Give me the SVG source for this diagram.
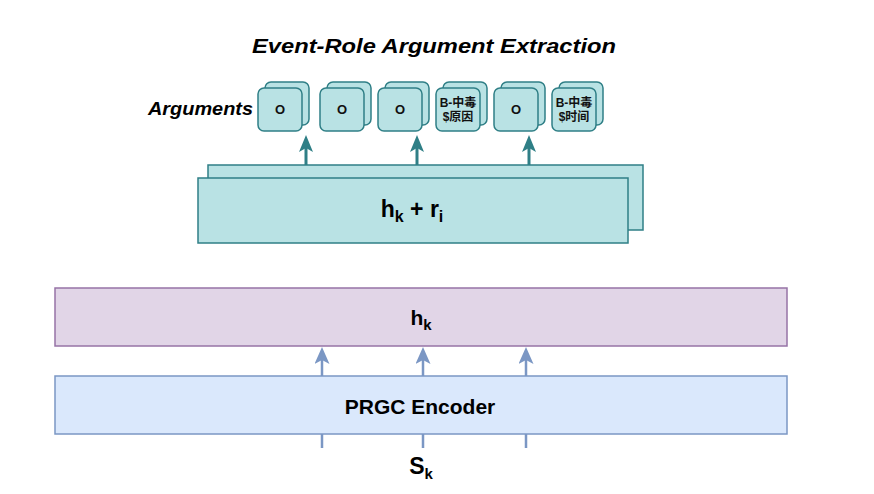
<svg xmlns="http://www.w3.org/2000/svg" width="874" height="494" viewBox="0 0 874 494">
<defs>
<style>
.title{font-family:"Liberation Sans",Arial,sans-serif;font-weight:bold;font-style:italic;font-size:21px;fill:#000}
.lbl{font-family:"Liberation Sans",Arial,sans-serif;font-weight:bold;font-style:italic;font-size:19px;fill:#000}
.teal{fill:#b9e2e4;stroke:#2f7f86;stroke-width:1.5}
.tok{font-family:"Liberation Sans","Noto Sans CJK SC",Arial,sans-serif;font-weight:bold;font-size:12px;fill:#111;text-anchor:middle}
.o{font-size:13px}
.big{font-family:"Liberation Sans",Arial,sans-serif;font-weight:bold;font-size:21px;fill:#000;text-anchor:middle}
.sub{font-size:15px}
.tline{stroke:#2f7f86;stroke-width:3;fill:none}
.bline{stroke:#7b97c4;stroke-width:2.5;fill:none}
</style>
<marker id="ahT" markerUnits="userSpaceOnUse" markerWidth="17" markerHeight="14" viewBox="0 0 17 14" refX="5" refY="7" orient="auto">
<path d="M0,0 L17,7 L0,14 L4,7 Z" fill="#2f7f86"/>
</marker>
<marker id="ahB" markerUnits="userSpaceOnUse" markerWidth="17" markerHeight="15" viewBox="0 0 17 15" refX="5" refY="7.5" orient="auto">
<path d="M0,0 L17,7.5 L0,15 L4,7.5 Z" fill="#7b97c4"/>
</marker>
</defs>
<rect width="874" height="494" fill="#fff"/>

<text class="title" x="434" y="53" text-anchor="middle" textLength="364" lengthAdjust="spacingAndGlyphs">Event-Role Argument Extraction</text>
<text class="lbl" x="148" y="115" textLength="105" lengthAdjust="spacingAndGlyphs">Arguments</text>

<g id="arg1">
<rect class="teal" x="265" y="82" width="44" height="43" rx="6"/>
<rect class="teal" x="258" y="88" width="44" height="43" rx="6"/>
<text class="tok o" x="280" y="114">O</text>
</g>
<g id="arg2">
<rect class="teal" x="327" y="82" width="44" height="43" rx="6"/>
<rect class="teal" x="320" y="88" width="44" height="43" rx="6"/>
<text class="tok o" x="342" y="114">O</text>
</g>
<g id="arg3">
<rect class="teal" x="385" y="82" width="44" height="43" rx="6"/>
<rect class="teal" x="378" y="88" width="44" height="43" rx="6"/>
<text class="tok o" x="400" y="114">O</text>
</g>
<g id="arg4">
<rect class="teal" x="443" y="82" width="44" height="43" rx="6"/>
<rect class="teal" x="436" y="88" width="44" height="43" rx="6"/>
<text class="tok" x="458" y="107">B-中毒</text>
<text class="tok" x="458" y="121">$原因</text>
</g>
<g id="arg5">
<rect class="teal" x="501" y="82" width="44" height="43" rx="6"/>
<rect class="teal" x="494" y="88" width="44" height="43" rx="6"/>
<text class="tok o" x="516" y="114">O</text>
</g>
<g id="arg6">
<rect class="teal" x="559" y="82" width="44" height="43" rx="6"/>
<rect class="teal" x="552" y="88" width="44" height="43" rx="6"/>
<text class="tok" x="574" y="107">B-中毒</text>
<text class="tok" x="574" y="121">$时间</text>
</g>

<g id="hkri">
<rect class="teal" x="208" y="165" width="435" height="65"/>
<rect class="teal" x="198" y="178" width="430" height="65"/>
<text class="big" x="412" y="217" style="font-size:23px">h<tspan class="sub" dy="5" style="font-size:16px">k</tspan><tspan dy="-5"> + r</tspan><tspan class="sub" dy="5" style="font-size:16px">i</tspan></text>
</g>

<g id="hk">
<rect x="55" y="288" width="732" height="58" fill="#e1d5e7" stroke="#9673a6" stroke-width="1.5"/>
<text class="big" x="421" y="325">h<tspan class="sub" dy="5">k</tspan></text>
</g>

<g id="encoder">
<rect x="55" y="376" width="732" height="58" fill="#dae8fc" stroke="#7b97c4" stroke-width="1.5"/>
<text class="big" x="420" y="414">PRGC Encoder</text>
</g>

<g id="sk">
<text class="big" x="421" y="474" style="font-size:23px">S<tspan class="sub" dy="5">k</tspan></text>
</g>

<g id="connectors">
<line class="tline" x1="306" y1="165" x2="306" y2="147" marker-end="url(#ahT)"/>
<line class="tline" x1="417" y1="165" x2="417" y2="147" marker-end="url(#ahT)"/>
<line class="tline" x1="529" y1="165" x2="529" y2="147" marker-end="url(#ahT)"/>
<line class="bline" x1="322" y1="376" x2="322" y2="359" marker-end="url(#ahB)"/>
<line class="bline" x1="423" y1="376" x2="423" y2="359" marker-end="url(#ahB)"/>
<line class="bline" x1="526" y1="376" x2="526" y2="359" marker-end="url(#ahB)"/>
<line class="bline" x1="322" y1="434" x2="322" y2="448"/>
<line class="bline" x1="423" y1="434" x2="423" y2="448"/>
<line class="bline" x1="526" y1="434" x2="526" y2="448"/>
</g>
</svg>
